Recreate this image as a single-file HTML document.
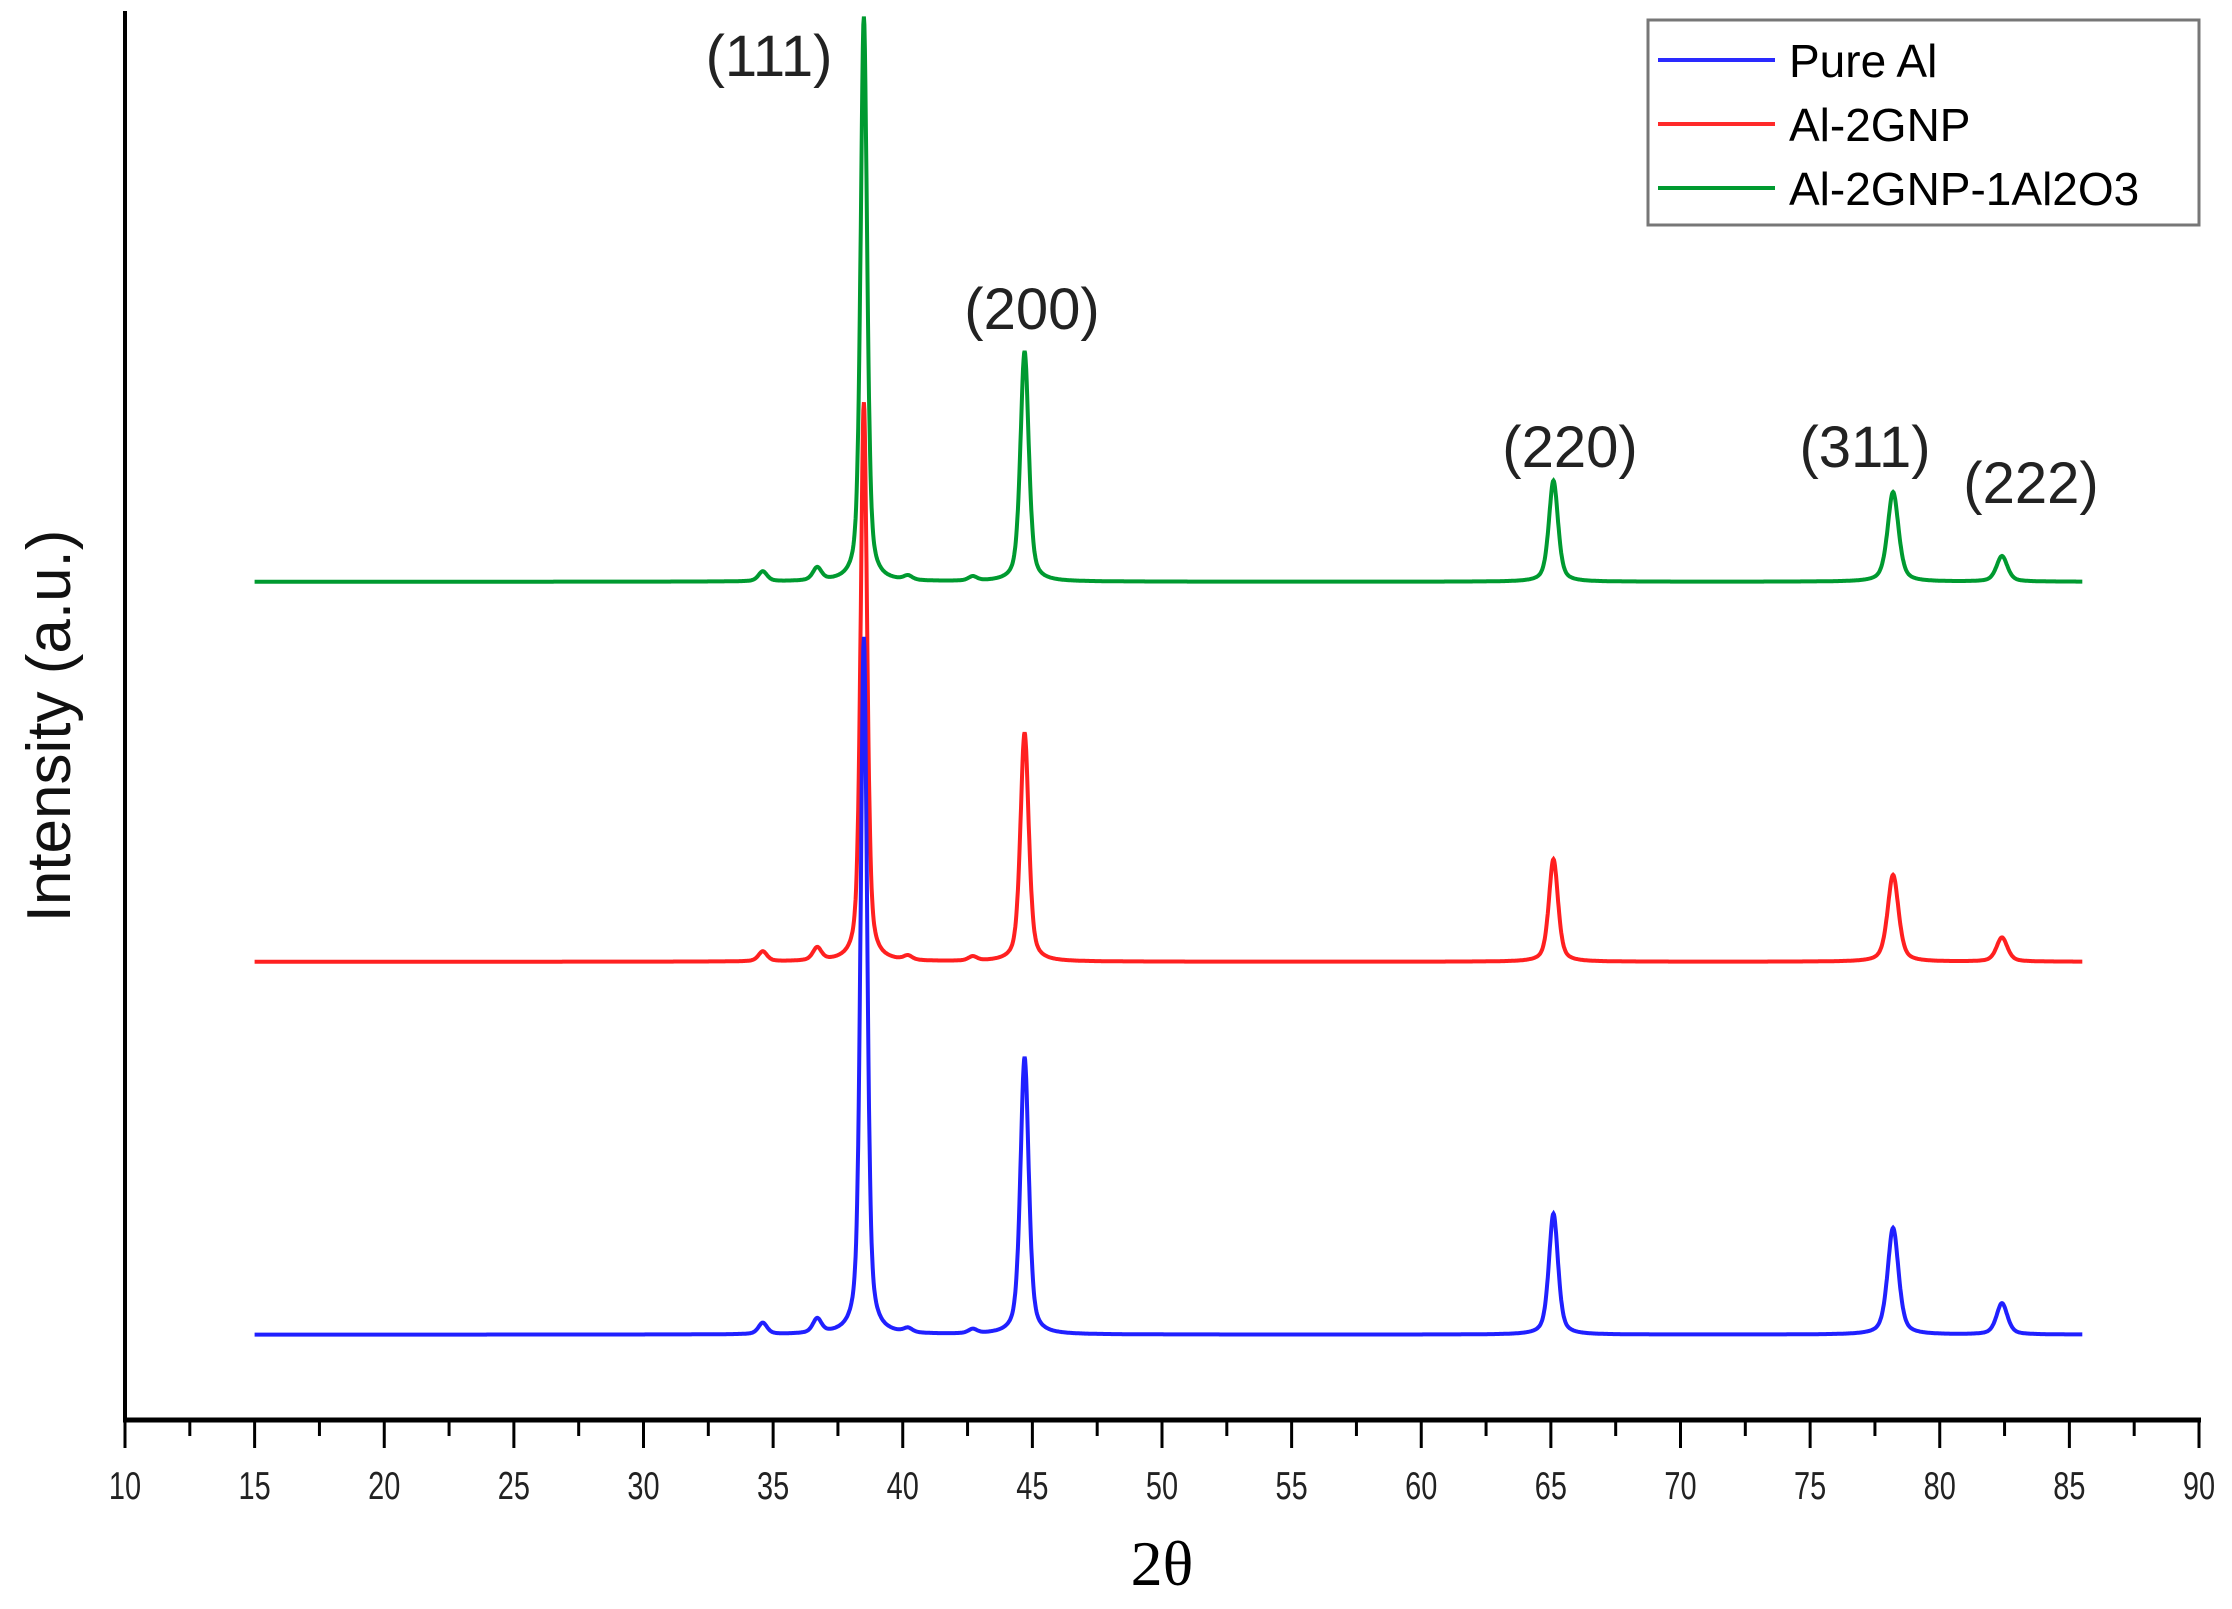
<!DOCTYPE html>
<html><head><meta charset="utf-8"><style>
body{margin:0;background:#fff}
svg text{font-family:"Liberation Sans",sans-serif}
</style></head><body>
<svg id="c" width="2232" height="1604" viewBox="0 0 2232 1604" xmlns="http://www.w3.org/2000/svg">
<g id="plot"></g>
<line x1="125" y1="11" x2="125" y2="1422" stroke="#000" stroke-width="4"/>
<line x1="123" y1="1420" x2="2201" y2="1420" stroke="#000" stroke-width="5"/>
<g id="ticks"></g>
<text x="1162" y="1585" font-size="64" text-anchor="middle" style="font-family:'Liberation Serif',serif">2θ</text>
<text transform="translate(70,726) rotate(-90)" font-size="62" text-anchor="middle" fill="#111">Intensity (a.u.)</text>
<g font-size="58" fill="#222" text-anchor="middle">
<text x="769" y="76">(111)</text>
<text x="1032" y="329">(200)</text>
<text x="1570" y="467">(220)</text>
<text x="1865" y="467">(311)</text>
<text x="2031" y="503">(222)</text>
</g>
<g>
<rect x="1648" y="20" width="551" height="205" fill="#fff" stroke="#777" stroke-width="3"/>
<line x1="1658" y1="60" x2="1775" y2="60" stroke="#2a2aff" stroke-width="4"/>
<text x="1789" y="77" font-size="46">Pure Al</text>
<line x1="1658" y1="124" x2="1775" y2="124" stroke="#ff2a2a" stroke-width="4"/>
<text x="1789" y="141" font-size="46">Al-2GNP</text>
<line x1="1658" y1="188" x2="1775" y2="188" stroke="#009a30" stroke-width="4"/>
<text x="1789" y="205" font-size="46">Al-2GNP-1Al2O3</text>
</g>
</svg>
<script>
const tickLabels=[10,15,20,25,30,35,40,45,50,55,60,65,70,75,80,85,90];
const peakPos=[34.6,36.7,38.5,40.2,42.7,44.7,65.1,78.2,82.4];
const peakWidth=[0.2,0.2,0.15,0.2,0.2,0.19,0.21,0.25,0.25];
const blueHeights=[8,10,490,3,3,195,85,75,22];
const redHeights=[7,9,393,3,3,161,72,61,17];
const greenHeights=[7,9,397,3,3,162,71,63,18];
const baselines=[60,322,589];
const xStart=15, xEnd=85.5;
const NS='http://www.w3.org/2000/svg';
function xs(v){return 125+(v-10)*(2199-125)/80;}
function ys(v){return 1420-v*(1420-11)/990;}
const plot=document.getElementById('plot');
const series=[[greenHeights,baselines[2],'#009a30','series-al-2gnp-1al2o3'],[redHeights,baselines[1],'#ff2020','series-al-2gnp'],[blueHeights,baselines[0],'#2020ff','series-pure-al']];
series.forEach(s=>{
  let d='';
  for(let x=xStart;x<=xEnd+1e-9;x+=0.02){
    let I=s[1];
    for(let i=0;i<peakPos.length;i++){const t=(x-peakPos[i])/peakWidth[i];I+=s[0][i]*(0.5/(1+t*t)+0.5*Math.exp(-0.693*t*t));}
    d+=(d?'L':'M')+xs(x).toFixed(1)+','+ys(I).toFixed(1);
  }
  const p=document.createElementNS(NS,'path');
  p.setAttribute('d',d);p.setAttribute('fill','none');p.setAttribute('stroke',s[2]);p.setAttribute('stroke-width','4');
  
  
  plot.appendChild(p);
});
const tg=document.getElementById('ticks');
for(let v=10;v<=90;v+=2.5){
  const major=Math.abs(v%5)<1e-6;
  const l=document.createElementNS(NS,'line');
  l.setAttribute('x1',xs(v));l.setAttribute('x2',xs(v));l.setAttribute('y1',1420);l.setAttribute('y2',major?1448:1436);
  l.setAttribute('stroke','#000');l.setAttribute('stroke-width','3');
  
  
  tg.appendChild(l);
}
tickLabels.forEach(v=>{
  const t=document.createElementNS(NS,'text');
  t.setAttribute('transform','translate('+xs(v)+',1499) scale(0.85,1.15)');
  t.setAttribute('font-size','34');t.setAttribute('text-anchor','middle');t.setAttribute('fill','#222');
  t.textContent=v;
  
  
  tg.appendChild(t);
});
</script>
</body></html>
